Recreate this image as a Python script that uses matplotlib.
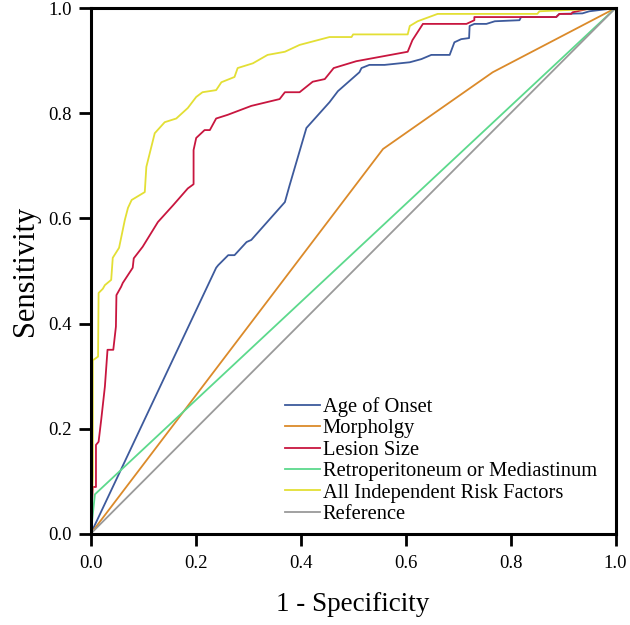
import matplotlib
matplotlib.use("Agg")
import matplotlib.pyplot as plt

plt.rcParams['font.family'] = ['Liberation Serif', 'DejaVu Serif']

# ROC curve points (1 - specificity, sensitivity)
age_fpr = [0.0, 0.239, 0.243, 0.262, 0.274, 0.297, 0.306, 0.370, 0.379, 0.411, 0.455, 0.471,
           0.512, 0.516, 0.531, 0.560, 0.608, 0.630, 0.649, 0.684, 0.693, 0.706, 0.721, 0.722,
           0.731, 0.754, 0.770, 0.817, 0.820, 0.887, 0.893, 0.937, 0.950, 1.0]
age_tpr = [0.0, 0.506, 0.511, 0.530, 0.530, 0.555, 0.559, 0.631, 0.663, 0.772, 0.821, 0.842,
           0.878, 0.886, 0.892, 0.892, 0.897, 0.903, 0.911, 0.911, 0.935, 0.941, 0.943, 0.966,
           0.970, 0.970, 0.975, 0.977, 0.983, 0.983, 0.989, 0.990, 0.994, 1.0]

morph_fpr = [0.0, 0.557, 0.766, 1.0]
morph_tpr = [0.0, 0.732, 0.878, 1.0]

size_fpr = [0.0, 0.002, 0.004, 0.010, 0.010, 0.015, 0.020, 0.027, 0.032, 0.043, 0.048, 0.049,
            0.058, 0.061, 0.080, 0.082, 0.099, 0.128, 0.157, 0.185, 0.196, 0.196, 0.201, 0.217,
            0.227, 0.239, 0.261, 0.306, 0.360, 0.370, 0.398, 0.423, 0.446, 0.463, 0.506, 0.604,
            0.613, 0.633, 0.716, 0.731, 0.731, 0.887, 0.893, 0.916, 0.918, 0.945, 1.0]
size_tpr = [0.0, 0.049, 0.089, 0.089, 0.169, 0.175, 0.217, 0.280, 0.350, 0.350, 0.394, 0.454,
            0.470, 0.477, 0.506, 0.524, 0.546, 0.593, 0.625, 0.657, 0.665, 0.730, 0.753, 0.768,
            0.768, 0.790, 0.797, 0.814, 0.827, 0.840, 0.840, 0.860, 0.865, 0.886, 0.899, 0.917,
            0.939, 0.970, 0.970, 0.977, 0.983, 0.983, 0.989, 0.989, 0.992, 0.998, 1.0]

retro_fpr = [0.0, 0.008, 1.0]
retro_tpr = [0.0, 0.075, 1.0]

all_fpr = [0.0, 0.004, 0.004, 0.014, 0.015, 0.023, 0.027, 0.039, 0.042, 0.054, 0.065, 0.071,
           0.078, 0.103, 0.106, 0.114, 0.122, 0.141, 0.163, 0.185, 0.201, 0.213, 0.239, 0.249,
           0.274, 0.280, 0.309, 0.337, 0.370, 0.398, 0.455, 0.497, 0.500, 0.604, 0.608, 0.623,
           0.661, 0.851, 0.855, 0.994, 1.0]
all_tpr = [0.0, 0.11, 0.33, 0.337, 0.458, 0.466, 0.473, 0.483, 0.525, 0.544, 0.597, 0.620,
           0.635, 0.650, 0.698, 0.730, 0.762, 0.783, 0.790, 0.810, 0.831, 0.840, 0.844, 0.859,
           0.869, 0.886, 0.895, 0.911, 0.917, 0.930, 0.945, 0.945, 0.950, 0.950, 0.966, 0.975,
           0.989, 0.989, 0.994, 1.0, 1.0]

ref_fpr = [0.0, 1.0]
ref_tpr = [0.0, 1.0]

fig = plt.figure(figsize=(6.3, 6.25), dpi=100)
ax = fig.add_axes([0.144, 0.146, 0.833, 0.841])

lw = 1.3
ax.plot(age_fpr, age_tpr, color='#3d5a9c', lw=lw, label='Age of Onset')
ax.plot(morph_fpr, morph_tpr, color='#db8a2a', lw=lw, label='Morpholgy')
ax.plot(size_fpr, size_tpr, color='#c8163f', lw=lw, label='Lesion Size')
ax.plot(retro_fpr, retro_tpr, color='#5cd98c', lw=lw, label='Retroperitoneum or Mediastinum')
ax.plot(all_fpr, all_tpr, color='#e3df35', lw=lw, label='All Independent Risk Factors')
ax.plot(ref_fpr, ref_tpr, color='#9a9a9a', lw=lw, label='Reference')

ax.set_xlim(0, 1)
ax.set_ylim(0, 1)
ticks = [0.0, 0.2, 0.4, 0.6, 0.8, 1.0]
ax.set_xticks(ticks)
ax.set_yticks(ticks)
ax.set_xticklabels(['%.1f' % t for t in ticks])
ax.set_yticklabels(['%.1f' % t for t in ticks])
ax.tick_params(direction='out', length=8.5, width=2, labelsize=13.5)
ax.tick_params(axis='x', pad=7)
ax.tick_params(axis='y', pad=5)
for s in ax.spines.values():
    s.set_linewidth(2.2)

ax.set_xlabel('1 - Specificity', fontsize=19.5, labelpad=14)
ax.set_ylabel('Sensitivity', fontsize=22, labelpad=6)

ax.legend(loc='upper left', bbox_to_anchor=(0.354, 0.2755), frameon=False, fontsize=14.75,
          handlelength=1.7, handletextpad=0.15, labelspacing=0.1, borderaxespad=0)

fig.savefig('out.png', dpi=100)
